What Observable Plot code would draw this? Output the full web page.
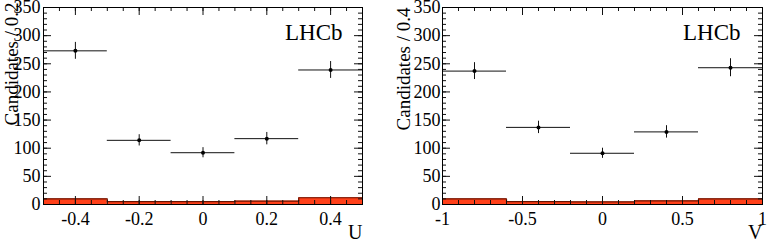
<!DOCTYPE html>
<html><head><meta charset="utf-8">
<script src="https://cdn.jsdelivr.net/npm/d3@7"></script>
<script src="https://cdn.jsdelivr.net/npm/@observablehq/plot@0.6"></script>
<style>
body{margin:0;background:#fff;}
#wrap{display:flex;width:768px;height:242px;overflow:hidden;background:#fff}
#wrap svg{display:block;flex:none;font-family:"Liberation Serif","Times New Roman",serif !important}
#wrap svg text{font-family:"Liberation Serif","Times New Roman",serif !important}
</style></head><body><div id="wrap"></div>
<script>
// ---- Data ----
const uCenters = [-0.4, -0.2, 0, 0.2, 0.4];
const uEdges = [-0.5, -0.3, -0.1, 0.1, 0.3, 0.5];
const uCounts = [273, 114, 92, 117, 239];
const uErrors = [15, 10, 9, 11, 15];
const uBackground = [10, 5, 5, 6, 12];
const uTicks = [-0.4, -0.2, 0, 0.2, 0.4];
const uTickLabels = ["-0.4", "-0.2", "0", "0.2", "0.4"];

const vCenters = [-0.8, -0.4, 0, 0.4, 0.8];
const vEdges = [-1, -0.6, -0.2, 0.2, 0.6, 1];
const vCounts = [237, 137, 91, 129, 243];
const vErrors = [15, 11, 9, 11, 16];
const vBackground = [10, 5, 4.5, 6.5, 10];
const vTicks = [-1, -0.5, 0, 0.5, 1];
const vTickLabels = ["-1", "-0.5", "0", "0.5", "1"];

const yTicks = [0, 50, 100, 150, 200, 250, 300, 350];
const yTickLabels = ["0", "50", "100", "150", "200", "250", "300", "350"];

function panel(o) {
  const H = 242, mt = 7, mb = 38;
  const plotW = o.width - o.ml - o.mr, plotH = H - mt - mb;
  const bins = o.centers.map((c, i) => ({c, lo: o.edges[i], hi: o.edges[i + 1], n: o.counts[i], e: o.errors[i], b: o.bkg[i]}));
  const step = o.bkg.map((b, i) => ({x: o.edges[i], y: b})).concat([{x: o.edges[o.edges.length - 1], y: o.bkg[o.bkg.length - 1]}]);
  const x0 = o.edges[0], x1 = o.edges[o.edges.length - 1];
  const xMinor = d3.range(Math.round((x1 - x0) / o.minorStep) + 1).map(k => x0 + k * o.minorStep);
  const yMinor = d3.range(0, 351, 10);
  const MAJ = 8, MIN = 4;
  const ink = "#111";
  return Plot.plot({
    width: o.width, height: H,
    marginLeft: o.ml, marginRight: o.mr, marginTop: mt, marginBottom: mb,
    style: {fontFamily: "'Liberation Serif', serif", fontSize: "18px", background: "#fff", color: "#000"},
    x: {domain: [x0, x1]},
    y: {domain: [0, 350]},
    marks: [
      Plot.rect(bins, {x1: "lo", x2: "hi", y1: 0, y2: "b", fill: "#ff4019"}),
      Plot.line(step, {x: "x", y: "y", curve: "step-after", stroke: "#6a1200", strokeWidth: 1.2}),
      Plot.tickY(yMinor, {y: d => d, insetRight: plotW - MIN, stroke: ink}),
      Plot.tickY(yMinor, {y: d => d, insetLeft: plotW - MIN, stroke: ink}),
      Plot.tickY(yTicks, {y: d => d, insetRight: plotW - MAJ, stroke: ink}),
      Plot.tickY(yTicks, {y: d => d, insetLeft: plotW - MAJ, stroke: ink}),
      Plot.tickX(xMinor, {x: d => d, insetTop: plotH - MIN, stroke: ink}),
      Plot.tickX(xMinor, {x: d => d, insetBottom: plotH - MIN, stroke: ink}),
      Plot.tickX(o.ticks, {x: d => d, insetTop: plotH - MAJ, stroke: ink}),
      Plot.tickX(o.ticks, {x: d => d, insetBottom: plotH - MAJ, stroke: ink}),
      Plot.ruleY(bins, {y: "n", x1: "lo", x2: "hi", stroke: ink, strokeWidth: 1}),
      Plot.ruleX(bins, {x: "c", y1: d => d.n - d.e, y2: d => d.n + d.e, stroke: ink, strokeWidth: 1}),
      Plot.dot(bins, {x: "c", y: "n", r: 2, fill: "#000", stroke: "none"}),
      Plot.frame({stroke: "#000", strokeWidth: 1}),
      Plot.axisY(yTicks, {tickSize: 0, tickPadding: o.yPad, label: null, tickFormat: d => yTickLabels[yTicks.indexOf(d)], fontSize: 18}),
      Plot.axisX(o.ticks, {tickSize: 0, tickPadding: 8, label: null, tickFormat: d => o.tickLabels[o.ticks.indexOf(d)], fontSize: 18}),
      Plot.text([o.yLabel], {text: d => d, frameAnchor: "top-left", rotate: -90, textAnchor: "end", dx: o.titleDx, dy: o.titleDy, fontSize: 19, fill: "#000"}),
      Plot.text([o.xLabel], {text: d => d, frameAnchor: "bottom-right", textAnchor: "end", lineAnchor: "bottom", dy: 34, fontSize: 20, fill: "#000"}),
      Plot.text(["LHCb"], {text: d => d, frameAnchor: "top-right", textAnchor: "end", lineAnchor: "bottom", dx: o.lhcbDx, dy: 32, fontSize: 23, fill: "#000"})
    ]
  });
}

const wrap = document.getElementById("wrap");
wrap.appendChild(panel({
  centers: uCenters, edges: uEdges, counts: uCounts, errors: uErrors, bkg: uBackground,
  ticks: uTicks, tickLabels: uTickLabels, minorStep: 0.05,
  yLabel: "Candidates / 0.2", xLabel: "U",
  width: 384, ml: 43, mr: 22, yPad: 3, titleDx: -39, titleDy: -5, lhcbDx: -20
}));
wrap.appendChild(panel({
  centers: vCenters, edges: vEdges, counts: vCounts, errors: vErrors, bkg: vBackground,
  ticks: vTicks, tickLabels: vTickLabels, minorStep: 0.1,
  yLabel: "Candidates / 0.4", xLabel: "V",
  width: 384, ml: 58, mr: 6, yPad: 2, titleDx: -46, titleDy: 0, lhcbDx: -22
}));
</script></body></html>
